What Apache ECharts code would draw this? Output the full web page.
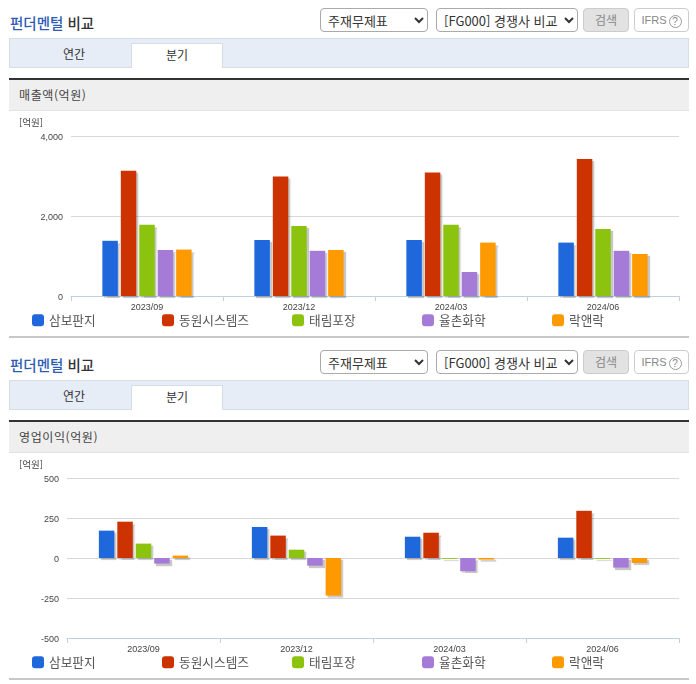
<!DOCTYPE html>
<html lang="ko">
<head>
<meta charset="utf-8">
<title>펀더멘털 비교</title>
<script src="https://cdn.jsdelivr.net/npm/echarts@6/dist/echarts.min.js"></script>
<style>
  html, body { margin: 0; padding: 0; background: #fff; }
  body { width: 696px; height: 684px; position: relative; overflow: hidden; font-family: "Noto Sans CJK KR", sans-serif; color: #333; }
  .abs { position: absolute; box-sizing: border-box; }
  .title { left: 10px; top: 13px; font-size: 14.5px; line-height: 20px; font-weight: 500; color: #333; }
  .title b { color: #2d5bb5; font-weight: 500; }
  select { position: absolute; box-sizing: border-box; top: 8px; height: 24px; background: #fff; border: 1px solid #aaa; border-radius: 4px; font: 13px "Noto Sans CJK KR", sans-serif; color: #333; padding: 0 0 0 3px; }
  .btn { top: 8px; height: 24px; border-radius: 4px; font-size: 12px; line-height: 22px; text-align: center; }
  .search { left: 583px; width: 46px; background: #e2e2e2; border: 1px solid #ccc; color: #888; }
  .ifrs { left: 634px; width: 55px; background: #fff; border: 1px solid #ccc; color: #888; font-family: "Liberation Sans", sans-serif; font-size: 11px; }
  .ifrs i { display: inline-block; width: 13px; height: 13px; line-height: 12px; margin-left: 2px; border: 1px solid #999; border-radius: 50%; font-style: normal; font-size: 10px; box-sizing: border-box; vertical-align: -1px; }
  .tabs { left: 9px; top: 38px; width: 680px; height: 30px; background: #e6edf7; border: 1px solid #d5dde8; }
  .tab { top: 43px; height: 25px; font-size: 12px; line-height: 22px; text-align: center; color: #333; }
  .tab.on { left: 131px; width: 92px; background: #fff; border: 1px solid #d5dde8; border-bottom: 0; }
  .head { left: 9px; top: 78px; width: 680px; height: 33px; background: #efefef; border-top: 2px solid #333; border-bottom: 1px solid #e2e2e2; font-size: 12px; line-height: 30px; padding-left: 10px; color: #444; letter-spacing: .6px; }
  .rule { left: 9px; top: 336px; width: 680px; height: 2px; background: #c8c8c8; }
  .panel { left: 0; width: 696px; height: 342px; }
  .chart { left: 0; width: 696px; height: 224px; top: 112px; }
</style>
</head>
<body>
<div id="panel1" class="abs panel" style="top:0"></div>
<div id="panel2" class="abs panel" style="top:342px"></div>
<script>
const categories = ['2023/09', '2023/12', '2024/03', '2024/06'];
const seriesNames = ['삼보판지', '동원시스템즈', '태림포장', '율촌화학', '락앤락'];
const seriesColors = ['#1f68dc', '#cc3300', '#8cc30f', '#a67bd8', '#ff9900'];
const legendLefts = [32, 162, 292, 422, 552];

const sales = [
  [1380, 1400, 1400, 1335],
  [3130, 2985, 3085, 3425],
  [1780, 1750, 1780, 1675],
  [1150, 1130, 600, 1130],
  [1160, 1150, 1335, 1050]
];
const profit = [
  [171, 194, 133, 127],
  [227, 140, 158, 295],
  [90, 52, -5, -5],
  [-35, -48, -83, -60],
  [15, -235, -10, -31]
];

const panelTitles = ['매출액(억원)', '영업이익(억원)'];

function panelHtml(title) {
  return `
    <div class="abs title"><b>펀더멘털</b> 비교</div>
    <select style="left:320px;width:108px"><option>주재무제표</option></select>
    <select style="left:436px;width:142px"><option>[FG000] 경쟁사 비교</option></select>
    <div class="abs btn search">검색</div>
    <div class="abs btn ifrs">IFRS<i>?</i></div>
    <div class="abs tabs"></div>
    <div class="abs tab" style="left:28px;width:92px">연간</div>
    <div class="abs tab on">분기</div>
    <div class="abs head">${title}</div>
    <div class="abs chart"></div>
    <div class="abs rule"></div>`;
}

function drawChart(el, values, gridLeft, gridTop, gridHeight, yMin, yMax, yStep) {
  const chart = echarts.init(el, null, { renderer: 'canvas' });
  chart.setOption({
    animation: false,
    grid: { left: gridLeft, right: 17, top: gridTop, height: gridHeight },
    legend: seriesNames.map((name, i) => ({
      data: [name],
      left: legendLefts[i],
      top: 202,
      icon: 'roundRect',
      itemWidth: 12,
      itemHeight: 12,
      itemGap: 0,
      padding: 0,
      selectedMode: false,
      textStyle: { fontSize: 12.7, color: '#555', fontFamily: 'Noto Sans CJK KR' }
    })),
    graphic: [{
      type: 'text', left: 19, top: 6,
      style: { text: '[억원]', fontSize: 9.5, fill: '#444', fontFamily: 'Noto Sans CJK KR' }
    }],
    xAxis: {
      type: 'category',
      data: categories,
      axisLine: { onZero: false, lineStyle: { color: '#c0d0e0', width: 1 } },
      axisTick: { show: true, length: 5, lineStyle: { color: '#c0d0e0' } },
      axisLabel: { fontSize: 9, margin: 7, color: '#444', fontFamily: 'Liberation Sans' }
    },
    yAxis: {
      type: 'value',
      min: yMin,
      max: yMax,
      interval: yStep,
      axisLine: { show: false },
      axisTick: { show: false },
      splitLine: { lineStyle: { color: '#d8d8d8', width: 1 } },
      axisLabel: {
        fontSize: 9, margin: 8, color: '#444', fontFamily: 'Liberation Sans',
        verticalAlign: 'top',
        lineHeight: 9,
        padding: [-3, 0, 0, 0],
        formatter: v => v.toLocaleString('en-US')
      }
    },
    series: seriesNames.map((name, i) => ({
      name: name,
      type: 'bar',
      data: values[i],
      barWidth: 15.5,
      barGap: '19%',
      itemStyle: {
        color: seriesColors[i],
        shadowColor: 'rgba(0,0,0,0.22)',
        shadowBlur: 1,
        shadowOffsetX: 2,
        shadowOffsetY: 2
      }
    }))
  });
}

document.getElementById('panel1').innerHTML = panelHtml(panelTitles[0]);
document.getElementById('panel2').innerHTML = panelHtml(panelTitles[1]);
drawChart(document.querySelector('#panel1 .chart'), sales, 71, 24, 160, 0, 4000, 2000);
drawChart(document.querySelector('#panel2 .chart'), profit, 67, 24, 160, -500, 500, 250);
</script>
</body>
</html>
